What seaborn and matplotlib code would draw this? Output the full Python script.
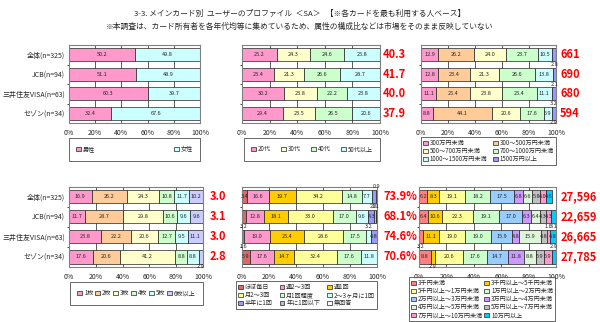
import numpy as np
import matplotlib
matplotlib.use('Agg')
import matplotlib.pyplot as plt
from matplotlib.patches import Patch
import seaborn as sns

cards = ['全体(n=325)', 'JCB(n=94)', '三井住友VISA(n=63)', 'セゾン(n=34)']

gender_labels = ['男性', '女性']
gender_vals = [[50.2, 49.8], [51.1, 48.9], [60.3, 39.7], [32.4, 67.6]]
gender_colors = ['#FF99CC', '#CCFFFF']

age_labels = ['20代', '30代', '40代', '50代以上']
age_vals = [[25.2, 24.3, 24.6, 25.8], [23.4, 21.3, 26.6, 28.7],
            [30.2, 23.8, 22.2, 23.8], [29.4, 23.5, 26.5, 20.6]]
age_colors = ['#FF99CC', '#FFFFCC', '#CCFFCC', '#CCFFFF']
avg_age = ['40.3', '41.7', '40.0', '37.9']

income_labels = ['300万円未満', '300～500万円未満', '500～700万円未満',
                 '700～1000万円未満', '1000～1500万円未満', '1500万円以上']
income_vals = [[12.9, 26.2, 24.0, 23.7, 10.5, 2.8], [12.8, 23.4, 21.3, 26.6, 13.8, 2.1],
               [11.1, 25.4, 23.8, 25.4, 11.1, 3.2], [8.8, 44.1, 20.6, 17.6, 5.9, 2.9]]
income_colors = ['#FF99CC', '#FFCC99', '#FFFFCC', '#CCFFCC', '#CCFFFF', '#9999FF']
avg_income = ['661', '690', '680', '594']

num_labels = ['1枚', '2枚', '3枚', '4枚', '5枚', '6枚以上']
num_vals = [[16.9, 26.2, 24.3, 10.8, 11.7, 10.2], [11.7, 28.7, 29.8, 10.6, 9.6, 9.6],
            [23.8, 22.2, 20.6, 12.7, 9.5, 11.1], [17.6, 20.6, 41.2, 8.8, 8.8, 2.9]]
num_colors = ['#FF99CC', '#FFCC99', '#FFFFCC', '#CCFFCC', '#CCFFFF', '#CCCCFF']
avg_num = ['3.0', '3.1', '3.0', '2.8']

freq_labels = ['ほぼ毎日', '週2～3回', '週1回', '月2～3回', '月1回程度',
               '2～3ヶ月に1回', '半年に1回', '年に1回以下', '無回答']
freq_vals = [[3.4, 16.6, 19.7, 34.2, 14.8, 7.7, 2.8, 0.9, 0],
             [3.2, 12.8, 18.1, 33.0, 17.0, 9.6, 4.3, 1.1, 0],
             [1.6, 19.0, 25.4, 28.6, 17.5, 3.2, 4.8, 0, 0],
             [5.9, 17.6, 14.7, 32.4, 17.6, 11.8, 0, 0, 0]]
freq_colors = ['#E06666', '#FF99CC', '#FFCC00', '#FFFF99', '#CCFFCC',
               '#CCFFFF', '#9999FF', '#C0C0C0', '#FFFFFF']
weekly_rate = ['73.9%', '68.1%', '74.6%', '70.6%']

spend_labels = ['3千円未満', '3千円以上～5千円未満', '5千円以上～1万円未満',
                '1万円以上～2万円未満', '2万円以上～3万円未満', '3万円以上～4万円未満',
                '4万円以上～5万円未満', '5万円以上～7万円未満', '7万円以上～10万円未満',
                '10万円以上']
spend_vals = [[6.2, 8.3, 19.1, 18.2, 17.5, 6.8, 6.6, 5.8, 4.0, 4.6],
              [6.4, 10.6, 22.3, 19.1, 17.0, 6.3, 6.4, 4.3, 4.3, 3.1],
              [3.2, 11.1, 19.0, 19.0, 15.9, 4.8, 15.9, 4.8, 1.6, 4.8],
              [8.8, 2.9, 20.6, 17.6, 14.7, 11.8, 8.8, 5.9, 5.9, 2.9]]
spend_colors = ['#FF8080', '#FFCC00', '#FFFF99', '#CCFFCC', '#99CCFF',
                '#CC99FF', '#DDF5D8', '#C0C0C0', '#FF99CC', '#00CCFF']
avg_spend = ['27,596', '22,659', '26,665', '27,785']

sns.set_style('white')
plt.rcParams['font.family'] = ['Noto Sans CJK JP', 'DejaVu Sans']

W, H = 600, 322
fig = plt.figure(figsize=(6, 3.22), dpi=100)


def rect(x0, y0, x1, y1):
    return [x0 / W, 1 - y1 / H, (x1 - x0) / W, (y1 - y0) / H]


def stacked(ax, vals, colors, show_names):
    vals = np.array(vals, dtype=float)
    left = np.zeros(len(cards))
    for j, col in enumerate(colors):
        sns.barplot(x=vals[:, j], y=cards, left=left, color=col, saturation=1,
                    width=0.65, errorbar=None, orient='h', edgecolor='#222222',
                    linewidth=0.5, ax=ax)
        left = left + vals[:, j]
    # numbers on the segments, small ones go outside the bar
    for i in range(len(cards)):
        cum = 0
        flip = 1
        for v in vals[i]:
            if v > 0:
                if v >= 3.3:
                    ax.text(cum + v / 2, i, '%.1f' % v, ha='center', va='center', fontsize=4)
                else:
                    ax.text(cum + v / 2, i + 0.5 * flip, '%.1f' % v, ha='center',
                            va='center', fontsize=4, clip_on=False)
                    flip = -flip
            cum += v
    ax.set_xlim(0, 100)
    ax.set_xticks(range(0, 101, 20))
    ax.set_xticklabels(['%d%%' % t for t in range(0, 101, 20)], fontsize=5)
    ax.set_xlabel('')
    ax.set_ylabel('')
    ax.grid(axis='x', color='#404040', lw=0.6)
    ax.set_axisbelow(True)
    ax.set_yticks([0.5, 1.5, 2.5], minor=True)
    ax.tick_params(axis='y', which='minor', length=1.5, width=0.6, left=True)
    ax.tick_params(axis='x', length=0, pad=4)
    ax.tick_params(axis='y', which='major', length=0, pad=3)
    if show_names:
        ax.set_yticks(range(len(cards)))
        ax.set_yticklabels(cards, fontsize=5)
    else:
        ax.set_yticklabels([])
    for s in ax.spines.values():
        s.set_color('#808080')
        s.set_linewidth(0.8)
        s.set_visible(True)


def side_values(ax, texts, xpos):
    for i, t in enumerate(texts):
        ax.text(xpos, i, t, transform=ax.get_yaxis_transform(), ha='left',
                va='center', color='#FF0000', fontsize=8, fontweight='bold')


def legend_box(labels, colors, ncol, box, pad=0.5):
    handles = [Patch(facecolor=c, edgecolor='#222222', linewidth=0.5) for c in colors]
    rows = int(np.ceil(len(labels) / ncol))
    order = [r * ncol + c for c in range(ncol) for r in range(rows) if r * ncol + c < len(labels)]
    leg = fig.legend([handles[k] for k in order], [labels[k] for k in order],
                     loc='upper left', bbox_to_anchor=rect(*box), bbox_transform=fig.transFigure,
                     mode='expand', ncol=ncol, fontsize=4.4, frameon=True, fancybox=False,
                     edgecolor='#222222', handlelength=0.8, handleheight=0.7,
                     handletextpad=0.3, labelspacing=0.02, borderpad=pad,
                     columnspacing=0.5, borderaxespad=0)
    leg.get_frame().set_linewidth(0.6)


# top row
ax1 = fig.add_axes(rect(69, 45, 200, 123))
stacked(ax1, gender_vals, gender_colors, True)
legend_box(gender_labels, gender_colors, 2, (69, 138, 200, 160), pad=1.2)

ax2 = fig.add_axes(rect(242, 45, 380, 123))
stacked(ax2, age_vals, age_colors, False)
side_values(ax2, avg_age, 1.02)
legend_box(age_labels, age_colors, 4, (244, 138, 380, 160), pad=1.2)

ax3 = fig.add_axes(rect(421, 45, 556, 123))
stacked(ax3, income_vals, income_colors, False)
side_values(ax3, avg_income, 1.03)
legend_box(income_labels, income_colors, 2, (421, 137, 556, 161), pad=0.3)

# bottom row
ax4 = fig.add_axes(rect(69, 187, 203, 267))
stacked(ax4, num_vals, num_colors, True)
side_values(ax4, avg_num, 1.05)
legend_box(num_labels, num_colors, 6, (70, 282, 203, 305), pad=1.2)

ax5 = fig.add_axes(rect(242, 187, 377, 267))
stacked(ax5, freq_vals, freq_colors, False)
side_values(ax5, weekly_rate, 1.045)
legend_box(freq_labels, freq_colors, 3, (236, 281, 377, 303), pad=0.3)

ax6 = fig.add_axes(rect(419, 187, 556, 267))
stacked(ax6, spend_vals, spend_colors, False)
side_values(ax6, avg_spend, 1.03)
legend_box(spend_labels, spend_colors, 2, (409, 277, 555, 313), pad=0.3)

fig.text(0.5, 1 - 14 / H, '3-3. メインカード別  ユーザーのプロファイル  ＜SA＞   【※各カードを最も利用する人ベース】',
         ha='center', va='center', fontsize=5.6)
fig.text(0.5, 1 - 27 / H, '※本調査は、カード所有者を各年代均等に集めているため、属性の構成比などは市場をそのまま反映していない',
         ha='center', va='center', fontsize=5.6)

fig.savefig('out.png', dpi=100)
